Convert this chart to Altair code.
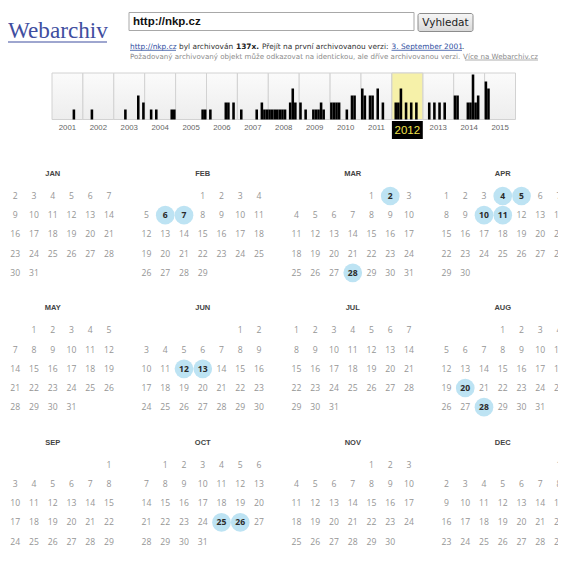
import calendar
import altair as alt
import pandas as pd

# ---------------- data ----------------
YEAR = 2012
YEARS = list(range(2001, 2016))
MONTHS = ["JAN", "FEB", "MAR", "APR", "MAY", "JUN",
          "JUL", "AUG", "SEP", "OCT", "NOV", "DEC"]

# captures per month (Jan..Dec)
CAP_2001 = [0, 0, 0, 0, 0, 0, 0, 0, 1, 0, 0, 0]
CAP_2002 = [0, 0, 0, 1, 0, 0, 0, 0, 0, 0, 0, 0]
CAP_2003 = [0, 0, 0, 0, 1, 0, 0, 0, 0, 3, 0, 2]
CAP_2004 = [0, 0, 1, 0, 1, 0, 0, 0, 0, 0, 1, 1]
CAP_2005 = [0, 0, 0, 0, 0, 0, 0, 0, 0, 0, 1, 1]
CAP_2006 = [0, 1, 0, 0, 0, 0, 0, 2, 2, 0, 2, 0]
CAP_2007 = [0, 1, 0, 0, 0, 0, 0, 1, 0, 2, 1, 1]
CAP_2008 = [1, 1, 1, 1, 1, 1, 1, 0, 2, 4, 2, 0]
CAP_2009 = [2, 0, 1, 0, 0, 1, 1, 1, 2, 1, 0, 0]
CAP_2010 = [2, 2, 2, 2, 0, 0, 1, 0, 3, 3, 0, 0]
CAP_2011 = [4, 3, 0, 3, 3, 0, 4, 0, 2, 0, 0, 0]
CAP_2012 = [0, 2, 2, 4, 0, 2, 0, 2, 0, 2, 0, 0]
CAP_2013 = [0, 0, 2, 0, 2, 0, 2, 0, 2, 0, 0, 0]
CAP_2014 = [3, 3, 0, 0, 0, 2, 2, 6, 2, 3, 0, 0]
CAP_2015 = [5, 4, 0, 0, 0, 0, 0, 0, 0, 0, 0, 0]

CAPTURED_DAYS = {"FEB": [6, 7], "MAR": [2, 28], "APR": [4, 5, 10, 11],
                 "JUN": [12, 13], "AUG": [20, 28], "OCT": [25, 26]}

TOTAL = 137
FIRST_DATE = "3. September 2001"
URL = "http://nkp.cz"

# ---------------- helpers ----------------
OX, OY = 8, 8          # page margin
W, H = 550, 544        # page 566x562 minus margins
SANS = "DejaVu Sans"
ARIAL = "Liberation Sans"


def px(x):
    return x - OX


def py(y):
    return y - OY


one = pd.DataFrame({"k": [0]})


def label(text, x, y, size, color, weight="normal", font=SANS, align="left",
          baseline="middle"):
    return alt.Chart(one).mark_text(
        text=text, fontSize=size, color=color, fontWeight=weight, font=font,
        align=align, baseline=baseline
    ).encode(x=alt.value(px(x)), y=alt.value(py(y)))


def hline(x1, x2, y, color, w=1.0):
    return alt.Chart(one).mark_rule(color=color, strokeWidth=w).encode(
        x=alt.value(px(x1)), x2=alt.value(px(x2)), y=alt.value(py(y)))


def box(x1, x2, y1, y2, **kw):
    return alt.Chart(one).mark_rect(**kw).encode(
        x=alt.value(px(x1)), x2=alt.value(px(x2)),
        y=alt.value(py(y1)), y2=alt.value(py(y2)))


# ---------------- header ----------------
btn_grad = alt.LinearGradient(
    gradient="linear", x1=0, x2=0, y1=0, y2=1,
    stops=[alt.GradientStop(color="#f6f6f6", offset=0),
           alt.GradientStop(color="#d9d9d9", offset=1)])

header = alt.layer(
    label("Webarchiv", 8, 37.5, 23.2, "#3f4ea0", font="Liberation Serif",
          baseline="alphabetic"),
    hline(8, 107, 42, "#3f4ea0", 1.2),
    box(129, 414, 12.5, 30.5, fill="white", stroke="#a8a8a8", strokeWidth=1),
    label(URL, 133, 21.5, 11.5, "#111111", weight="bold", font=ARIAL),
    box(418, 473, 13.5, 31.5, fill=btn_grad, stroke="#8c8c8c", strokeWidth=1,
        cornerRadius=2),
    label("Vyhledat", 445.5, 22.5, 10.5, "#222222", align="center"),
    # line 1
    label(URL, 130, 46.5, 7.4, "#2f4f9f"),
    hline(130, 176, 50.3, "#2f4f9f", 0.8),
    label("byl archivován", 179, 46.5, 7.4, "#333333"),
    label(f"{TOTAL}x.", 236, 46.5, 7.4, "#222222", weight="bold"),
    label("Přejít na první archivovanou verzi:", 262, 46.5, 7.4, "#333333"),
    label(FIRST_DATE, 391.5, 46.5, 7.4, "#2f4f9f"),
    hline(391.5, 462, 50.3, "#2f4f9f", 0.8),
    label(".", 462, 46.5, 7.4, "#333333"),
    # line 2
    label("Požadovaný archivovaný objekt může odkazovat na identickou, ale "
          "dříve archivovanou verzi.", 130, 56.5, 7.1, "#8a8a8a"),
    label("Více na Webarchiv.cz", 538, 56.5, 7.1, "#8a8a8a", align="right"),
    hline(465, 538, 60, "#8a8a8a", 0.7),
)

# ---------------- histogram ----------------
CAPS = {2001: CAP_2001, 2002: CAP_2002, 2003: CAP_2003, 2004: CAP_2004,
        2005: CAP_2005, 2006: CAP_2006, 2007: CAP_2007, 2008: CAP_2008,
        2009: CAP_2009, 2010: CAP_2010, 2011: CAP_2011, 2012: CAP_2012,
        2013: CAP_2013, 2014: CAP_2014, 2015: CAP_2015}

hist_df = pd.DataFrame([
    dict(year=y, month=m + 1, count=c, start=y + m / 12, end=y + (m + 1) / 12)
    for y, arr in CAPS.items() for m, c in enumerate(arr) if c > 0
])
cells_df = pd.DataFrame({"year": YEARS,
                         "start": YEARS,
                         "end": [y + 1 for y in YEARS],
                         "mid": [y + 0.5 for y in YEARS],
                         "label": [str(y) for y in YEARS]})

H_TOP, H_BOT = 73, 119.5
xh = alt.Scale(domain=[YEARS[0], YEARS[-1] + 1], range=[px(52), px(515.5)])
yh = alt.Scale(domain=[-3 / 7, 46.5 / 7 - 3 / 7], range=[py(H_BOT), py(H_TOP)])

cell_grad = alt.LinearGradient(
    gradient="linear", x1=0, x2=0, y1=0, y2=1,
    stops=[alt.GradientStop(color="#fbfbfb", offset=0),
           alt.GradientStop(color="#ededed", offset=1)])

cells = alt.Chart(cells_df).mark_rect(
    fill=cell_grad, stroke="#d2d2d2", strokeWidth=1
).encode(
    x=alt.X("start:Q", scale=xh, axis=None), x2="end:Q",
    y=alt.value(py(H_TOP)), y2=alt.value(py(H_BOT)))

yellow = alt.Chart(cells_df).transform_filter(
    alt.datum.year == YEAR
).mark_rect(fill="#f6f1a9", stroke="#d2d2d2", strokeWidth=1).encode(
    x=alt.X("start:Q", scale=xh, axis=None), x2="end:Q",
    y=alt.value(py(H_TOP)), y2=alt.value(py(H_BOT)))

bars = alt.Chart(hist_df).mark_rect(color="#000000").encode(
    x=alt.X("start:Q", scale=xh, axis=None), x2="end:Q",
    y=alt.Y("count:Q", scale=yh, axis=None), y2=alt.value(py(H_BOT)))

year_labels = alt.Chart(cells_df).transform_filter(
    alt.datum.year != YEAR
).mark_text(fontSize=7.8, color="#666666", font=ARIAL, baseline="middle").encode(
    x=alt.X("mid:Q", scale=xh, axis=None),
    y=alt.value(py(128)), text="label:N")

sel_box = alt.Chart(cells_df).transform_filter(
    alt.datum.year == YEAR
).mark_rect(fill="#000000").encode(
    x=alt.X("start:Q", scale=xh, axis=None), x2="end:Q",
    y=alt.value(py(121)), y2=alt.value(py(139)))

sel_text = alt.Chart(cells_df).transform_filter(
    alt.datum.year == YEAR
).mark_text(fontSize=11.5, color="#f0e24a", font=ARIAL, baseline="middle").encode(
    x=alt.X("mid:Q", scale=xh, axis=None),
    y=alt.value(py(130.5)), text="label:N")

hist = alt.layer(cells, yellow, bars, year_labels, sel_box, sel_text)

# ---------------- calendar ----------------
rows = []
for mi, name in enumerate(MONTHS):
    m = mi + 1
    first_wd = (calendar.weekday(YEAR, m, 1) + 1) % 7   # Sunday first
    ndays = calendar.monthrange(YEAR, m)[1]
    for d in range(1, ndays + 1):
        idx = first_wd + d - 1
        rows.append(dict(month=name, day=str(d),
                         gx=(mi % 4) * 8 + idx % 7,
                         gy=(mi // 4) * 7 + idx // 7,
                         captured=d in CAPTURED_DAYS.get(name, [])))
cal_df = pd.DataFrame(rows)
titles_df = pd.DataFrame({"month": MONTHS,
                          "gx": [(i % 4) * 8 + 3 for i in range(12)],
                          "gy": [(i // 4) * 7 - 1.15 for i in range(12)]})

COL0, STEP_X = -3.5, 18.75
ROW0, STEP_Y = 196, 19.2
xc = alt.Scale(domain=[0, 31], range=[px(COL0), px(COL0 + 31 * STEP_X)])
yc = alt.Scale(domain=[-1, 20], range=[py(ROW0 - STEP_Y), py(ROW0 + 20 * STEP_Y)])

circles = alt.Chart(cal_df).transform_filter(
    alt.datum.captured
).mark_circle(size=350, color="#bde3f3", opacity=1).encode(
    x=alt.X("gx:Q", scale=xc, axis=None),
    y=alt.Y("gy:Q", scale=yc, axis=None))

nums = alt.Chart(cal_df).transform_filter(
    "!datum.captured"
).mark_text(fontSize=8.6, color="#959595", font="Open Sans", baseline="middle").encode(
    x=alt.X("gx:Q", scale=xc, axis=None),
    y=alt.Y("gy:Q", scale=yc, axis=None), text="day:N")

hnums = alt.Chart(cal_df).transform_filter(
    alt.datum.captured
).mark_text(fontSize=8.6, color="#2a2a2a", font="Open Sans", fontWeight="bold",
            baseline="middle").encode(
    x=alt.X("gx:Q", scale=xc, axis=None),
    y=alt.Y("gy:Q", scale=yc, axis=None), text="day:N")

titles = alt.Chart(titles_df).mark_text(
    fontSize=7.5, color="#444444", font=ARIAL, fontWeight="bold", baseline="middle"
).encode(
    x=alt.X("gx:Q", scale=xc, axis=None),
    y=alt.Y("gy:Q", scale=yc, axis=None), text="month:N")

cal = alt.layer(circles, nums, hnums, titles)

chart = alt.layer(header, hist, cal).resolve_scale(
    x="independent", y="independent"
).properties(
    width=W, height=H, padding=0,
    autosize=alt.AutoSizeParams(type="none")
).configure_view(stroke=None)

chart.save("out.html", embed_options={"renderer": "svg", "actions": False})
